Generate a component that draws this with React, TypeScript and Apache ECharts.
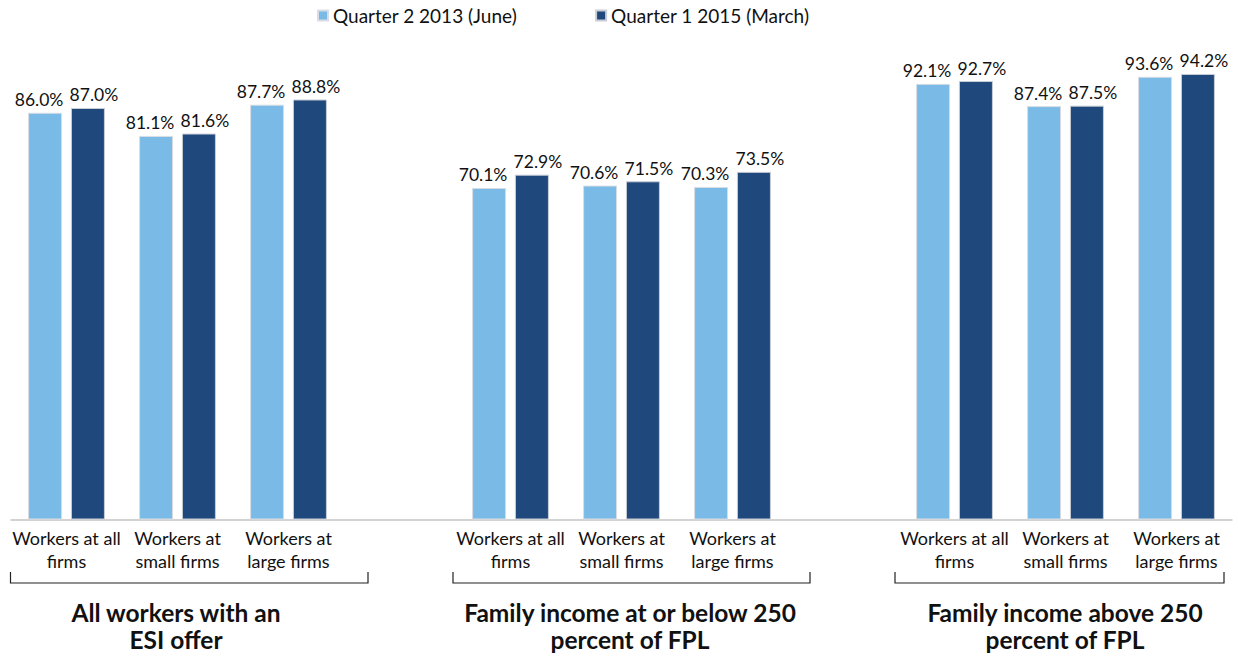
import React, { useEffect, useRef } from "react";
import * as echarts from "echarts";

// Category slots: three groups of three, separated by empty spacer slots
const categories: string[] = [
  "Workers at all\nfirms",
  "Workers at\nsmall firms",
  "Workers at\nlarge firms",
  "",
  "Workers at all\nfirms",
  "Workers at\nsmall firms",
  "Workers at\nlarge firms",
  "",
  "Workers at all\nfirms",
  "Workers at\nsmall firms",
  "Workers at\nlarge firms",
];

const seriesNames: string[] = ["Quarter 2 2013 (June)", "Quarter 1 2015 (March)"];

const q2_2013: (number | null)[] = [86.0, 81.1, 87.7, null, 70.1, 70.6, 70.3, null, 92.1, 87.4, 93.6];
const q1_2015: (number | null)[] = [87.0, 81.6, 88.8, null, 72.9, 71.5, 73.5, null, 92.7, 87.5, 94.2];

const groupTitles: string[] = [
  "All workers with an\nESI offer",
  "Family income at or below 250\npercent of FPL",
  "Family income above 250\npercent of FPL",
];

const FONT = "Lato, 'Open Sans', sans-serif";
const LIGHT = "#79bbe6";
const DARK = "#1f487c";

export default function App() {
  const ref = useRef<HTMLDivElement>(null);

  useEffect(() => {
    if (!ref.current) return;
    const chart = echarts.init(ref.current, undefined, { renderer: "svg" });

    const bracket = (x1: number, x2: number, y: number, tickTop: number) => ({
      type: "polyline",
      shape: { points: [[x1, tickTop], [x1, y], [x2, y], [x2, tickTop]] },
      style: { stroke: "#222", lineWidth: 1.2, fill: "none" },
      silent: true,
    });

    const title = (text: string, cx: number) => ({
      type: "text",
      x: cx,
      y: 599,
      style: {
        text,
        x: 0,
        y: 0,
        align: "center",
        verticalAlign: "top",
        fontFamily: FONT,
        fontWeight: "bold",
        fontSize: 24.5,
        lineHeight: 27,
        fill: "#111",
      },
      silent: true,
    });

    // Paired value labels are nudged apart so neighbouring percentages don't collide
    const barLabel = (dx: number) => ({
      show: true,
      position: "top" as const,
      distance: 4,
      offset: [dx, 0],
      formatter: (p: any) => (p.value == null ? "" : Number(p.value).toFixed(1) + "%"),
      fontFamily: FONT,
      fontSize: 17.5,
      color: "#111",
    });

    chart.setOption({
      animation: false,
      legend: {
        top: 1,
        left: 312,
        itemWidth: 10,
        itemHeight: 10,
        itemGap: 78,
        icon: "rect",
        textStyle: { fontFamily: FONT, fontSize: 19, color: "#111" },
        data: seriesNames,
      },
      grid: { left: 11, width: 1221, top: 46.5, height: 473 },
      xAxis: {
        type: "category",
        data: categories,
        axisLine: { lineStyle: { color: "#c4c4c4", width: 1.5 } },
        axisTick: { show: false },
        axisLabel: {
          interval: 0,
          margin: 7,
          fontFamily: FONT,
          fontSize: 18,
          lineHeight: 23,
          color: "#111",
        },
      },
      yAxis: {
        type: "value",
        min: 0,
        max: 100,
        show: false,
        splitLine: { show: false },
      },
      series: [
        {
          name: seriesNames[0],
          type: "bar",
          data: q2_2013,
          barWidth: 34,
          barGap: "26%",
          itemStyle: { color: LIGHT, borderColor: "#d9dde3", borderWidth: 1 },
          label: barLabel(-6),
        },
        {
          name: seriesNames[1],
          type: "bar",
          data: q1_2015,
          barWidth: 34,
          barGap: "26%",
          itemStyle: { color: DARK, borderColor: "#c9ced6", borderWidth: 1 },
          label: barLabel(6),
        },
      ],
      graphic: [
        bracket(10.5, 368, 583, 572),
        bracket(453, 810, 583, 572),
        bracket(895, 1224, 583, 572),
        title(groupTitles[0], 176),
        title(groupTitles[1], 630),
        title(groupTitles[2], 1065),
      ],
    });

    return () => chart.dispose();
  }, []);

  return (
    <div
      ref={ref}
      style={{ position: "fixed", left: 0, top: 0, width: 1238, height: 658, background: "#fff" }}
    />
  );
}
